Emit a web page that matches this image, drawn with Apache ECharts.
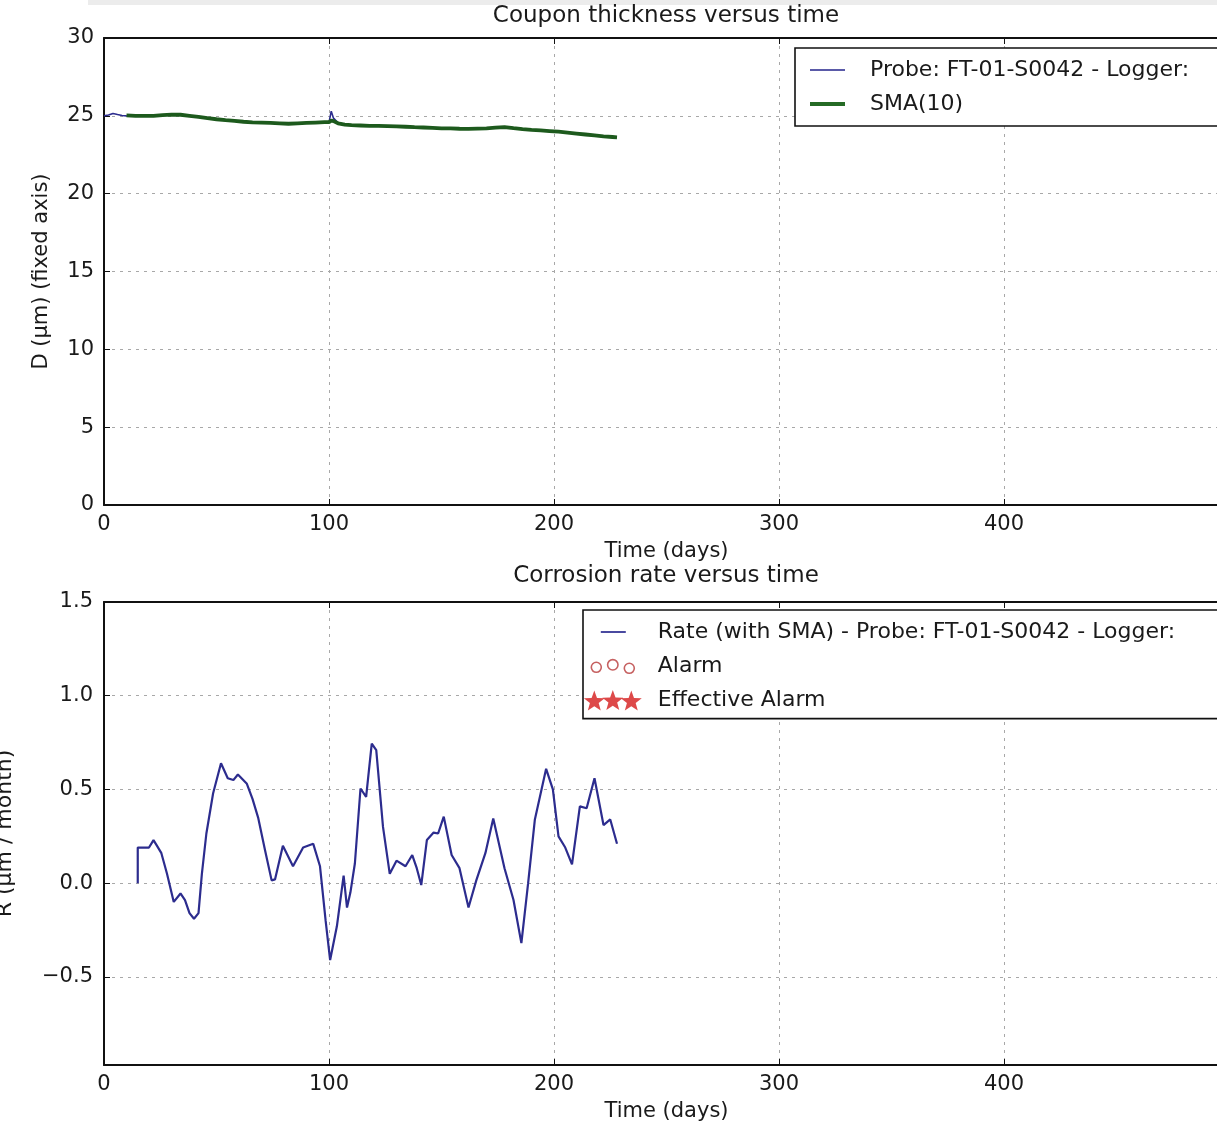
<!DOCTYPE html>
<html>
<head>
<meta charset="utf-8">
<title>Coupon thickness and corrosion rate</title>
<script src="https://cdn.jsdelivr.net/npm/echarts@6/dist/echarts.min.js"></script>
<style>
  html, body { margin: 0; padding: 0; background: #fff; }
  #chart { width: 1217px; height: 1126px; }
</style>
</head>
<body>
<div id="chart"></div>
<script>
// ---- Coupon thickness (µm) versus time (days) ----
const thicknessDays = [0, 2, 4, 6, 8, 10, 14, 18, 22, 26, 30, 34, 38, 42, 46, 50, 54, 58, 62, 66,
  70, 74, 78, 82, 86, 90, 94, 98, 100, 101, 102, 104, 107, 110, 114, 118, 122, 126, 130, 134,
  138, 142, 146, 150, 154, 158, 162, 166, 170, 174, 178, 182, 186, 190, 194, 198, 202, 206, 210,
  214, 218, 222, 226, 228];
const thicknessRaw = [25.00, 25.05, 25.15, 25.08, 25.02, 25.00, 24.98, 25.00, 24.99, 25.05, 25.10,
  25.08, 25.00, 24.93, 24.85, 24.78, 24.72, 24.68, 24.62, 24.58, 24.57, 24.55, 24.53, 24.46, 24.53,
  24.55, 24.57, 24.60, 24.58, 25.30, 24.85, 24.55, 24.45, 24.40, 24.38, 24.36, 24.36, 24.34, 24.32,
  24.30, 24.27, 24.25, 24.22, 24.18, 24.20, 24.17, 24.15, 24.18, 24.20, 24.24, 24.30, 24.20, 24.15,
  24.10, 24.06, 24.02, 23.98, 23.92, 23.86, 23.80, 23.74, 23.68, 23.64, 23.62];
// 10-sample moving average, available once ten samples exist
const thicknessSma = [null, null, null, null, null, 25.03, 25.00, 25.00, 25.00, 25.04, 25.08,
  25.07, 25.00, 24.93, 24.85, 24.78, 24.72, 24.68, 24.62, 24.58, 24.57, 24.55, 24.52, 24.49, 24.52,
  24.55, 24.57, 24.59, 24.59, 24.70, 24.66, 24.52, 24.44, 24.40, 24.38, 24.36, 24.35, 24.34, 24.32,
  24.30, 24.27, 24.25, 24.22, 24.19, 24.19, 24.17, 24.16, 24.18, 24.20, 24.24, 24.28, 24.21, 24.15,
  24.10, 24.06, 24.02, 23.98, 23.92, 23.86, 23.80, 23.74, 23.68, 23.64, 23.62];

// ---- Corrosion rate (µm / month) versus time (days) ----
const rateDays = [15, 15, 20, 22, 23.5, 25.5, 28, 31, 34, 36, 38, 40, 42, 43.5, 45.5, 48.5, 52,
  55, 57.5, 59.5, 63.5, 66, 68.5, 71.5, 74.5, 76, 79.5, 84, 88.5, 93, 96, 98.5, 100.5, 103.5,
  106.5, 108, 109.5, 111.5, 114, 116.5, 119, 121, 124, 127, 130, 134, 137, 139, 141, 143.5, 146.5,
  148.5, 151, 154.5, 158, 162, 165.5, 169.5, 173, 178, 182, 185.5, 188.5, 191.5, 196.5, 199.5, 202,
  205, 208, 211.5, 214.5, 218, 222, 225, 228];
const rateValues = [0.00, 0.19, 0.19, 0.23, 0.20, 0.16, 0.05, -0.10, -0.055, -0.09, -0.16, -0.19,
  -0.16, 0.05, 0.265, 0.48, 0.64, 0.56, 0.55, 0.58, 0.53, 0.45, 0.35, 0.18, 0.015, 0.02, 0.20, 0.09,
  0.19, 0.21, 0.09, -0.20, -0.41, -0.23, 0.04, -0.13, -0.05, 0.105, 0.505, 0.46, 0.745, 0.71, 0.30,
  0.05, 0.12, 0.09, 0.15, 0.08, -0.01, 0.23, 0.27, 0.265, 0.355, 0.15, 0.08, -0.13, 0.016, 0.16,
  0.345, 0.08, -0.09, -0.32, 0.00, 0.34, 0.61, 0.50, 0.25, 0.19, 0.10, 0.41, 0.40, 0.56, 0.31, 0.34,
  0.21];
// No alarm was raised over the period
const alarmPoints = [];
const effectiveAlarmPoints = [];

// ---- Axis ticks ----
const thicknessTicks = [0, 5, 10, 15, 20, 25, 30];
const rateTicks = [-0.5, 0.0, 0.5, 1.0, 1.5];

const probeName = 'Probe: FT-01-S0042 - Logger:';
const smaName = 'SMA(10)';
const rateName = 'Rate (with SMA) - Probe: FT-01-S0042 - Logger:';

const FONT = 'DejaVu Sans';
const INK = '#1a1a1a';
const BLUE = '#2c2c8e';
const GREEN = '#1d5a1d';
const RED = '#d41c1c';

const grid = { color: '#a8a8a8', width: 1, type: [3, 5] };

function pairs(xs, ys) { return xs.map((x, i) => [x, ys[i]]); }

// Legend icons drawn inside a fixed 58x22 frame so they keep their own size
function framed(body) { return 'path://M0,0M58,22' + body; }
function ring(cx, cy, r) {
  return 'M' + (cx - r) + ',' + cy + 'A' + r + ',' + r + ' 0 1 0 ' + (cx + r) + ',' + cy +
         'A' + r + ',' + r + ' 0 1 0 ' + (cx - r) + ',' + cy + 'Z';
}
function star(cx, cy, R, r) {
  let d = '';
  for (let k = 0; k < 10; k++) {
    const a = (-90 + k * 36) * Math.PI / 180;
    const rad = k % 2 === 0 ? R : r;
    d += (k === 0 ? 'M' : 'L') + (cx + rad * Math.cos(a)).toFixed(2) + ',' + (cy + rad * Math.sin(a)).toFixed(2);
  }
  return d + 'Z';
}

function timeAxis(gridIndex, withLabels) {
  return {
    type: 'value', gridIndex: gridIndex, min: 0, max: 500, interval: 100,
    position: withLabels ? 'bottom' : 'top',
    name: withLabels ? 'Time (days)' : '',
    nameLocation: 'middle', nameGap: 36,
    nameTextStyle: { fontFamily: FONT, fontSize: 21, color: INK },
    axisLine: { show: true, onZero: false, lineStyle: { color: '#111', width: 2 } },
    axisTick: { show: true, inside: true, length: 6, lineStyle: { color: '#111', width: 1 } },
    axisLabel: { show: withLabels, showMaxLabel: false, margin: 9, fontFamily: FONT, fontSize: 21, color: INK },
    splitLine: { show: withLabels, lineStyle: grid }
  };
}

const option = {
  animation: false,
  backgroundColor: '#ffffff',
  title: [
    { text: 'Coupon thickness versus time', left: 666, top: 5, textAlign: 'center', padding: 0,
      textStyle: { fontFamily: FONT, fontSize: 23, fontWeight: 'normal', color: INK } },
    { text: 'Corrosion rate versus time', left: 666, top: 565, textAlign: 'center', padding: 0,
      textStyle: { fontFamily: FONT, fontSize: 23, fontWeight: 'normal', color: INK } }
  ],
  graphic: [
    { type: 'rect', left: 88, top: 0, shape: { width: 1129, height: 5 }, style: { fill: '#ececec' }, silent: true }
  ],
  grid: [
    { left: 104, top: 38, width: 1125, height: 467, outerBoundsMode: 'none' },
    { left: 104, top: 602, width: 1125, height: 463, outerBoundsMode: 'none' }
  ],
  xAxis: [timeAxis(0, true), timeAxis(0, false), timeAxis(1, true), timeAxis(1, false)],
  yAxis: [
    {
      type: 'value', gridIndex: 0, min: 0, max: 30, interval: 5,
      name: 'D (\u03bcm) (fixed axis)', nameLocation: 'middle', nameGap: 52,
      nameTextStyle: { fontFamily: FONT, fontSize: 21, color: INK },
      axisLine: { show: true, lineStyle: { color: '#111', width: 2 } },
      axisTick: { show: true, inside: true, length: 6, customValues: thicknessTicks, lineStyle: { color: '#111' } },
      axisLabel: { margin: 10, fontFamily: FONT, fontSize: 21, color: INK, customValues: thicknessTicks },
      splitLine: { show: true, lineStyle: grid }
    },
    {
      type: 'value', gridIndex: 1, min: -0.97, max: 1.5,
      name: 'R (\u03bcm / month)', nameLocation: 'middle', nameGap: 88,
      nameTextStyle: { fontFamily: FONT, fontSize: 22, color: INK },
      axisLine: { show: true, lineStyle: { color: '#111', width: 2 } },
      axisTick: { show: true, inside: true, length: 6, customValues: rateTicks, lineStyle: { color: '#111' } },
      axisLabel: {
        margin: 11, fontFamily: FONT, fontSize: 21, color: INK, customValues: rateTicks,
        formatter: v => (v < 0 ? '\u2212' : '') + Math.abs(v).toFixed(1)
      },
      splitLine: { show: true, lineStyle: grid }
    }
  ],
  legend: [
    {
      orient: 'vertical', left: 795, top: 48, padding: [11, 80, 11, 15],
      itemWidth: 35, itemHeight: 14, itemGap: 12, selectedMode: false,
      borderColor: '#111', borderWidth: 1.6, backgroundColor: '#fff', borderRadius: 0,
      data: [
        { name: probeName, icon: 'path://M0,0L35,0L35,2L0,2Z', itemStyle: { color: '#5a5aa8', borderWidth: 0 } },
        { name: smaName, icon: 'path://M0,0L35,0L35,4L0,4Z', itemStyle: { color: '#256b25', borderWidth: 0 } }
      ],
      formatter: n => '{t|' + n + '}',
      textStyle: { rich: { t: { fontFamily: FONT, fontSize: 22, lineHeight: 22, color: INK, padding: [0, 0, 0, 20] } } }
    },
    {
      orient: 'vertical', left: 583, top: 610, padding: [11, 80, 7, 0],
      itemWidth: 58, itemHeight: 22, itemGap: 11.5, selectedMode: false,
      borderColor: '#111', borderWidth: 1.6, backgroundColor: '#fff', borderRadius: 0,
      data: [
        { name: rateName, icon: framed('M17,10L42,10L42,12L17,12Z'), itemStyle: { color: '#4a4aa0', borderWidth: 0 } },
        { name: 'Alarm', icon: framed(ring(12.5, 12, 5) + ring(29, 9.5, 5.2) + ring(45.5, 13, 5)),
          itemStyle: { color: 'rgba(0,0,0,0)', borderColor: '#b83a3a', borderWidth: 1.6 } },
        { name: 'Effective Alarm', icon: framed(star(10.5, 12, 11, 4.6) + star(29, 11.5, 11, 4.6) + star(47.5, 12, 11, 4.6)),
          itemStyle: { color: RED, borderWidth: 0 } }
      ],
      formatter: n => '{t|' + n + '}',
      textStyle: { rich: { t: { fontFamily: FONT, fontSize: 22, lineHeight: 22, color: INK, padding: [0, 0, 0, 11] } } }
    }
  ],
  series: [
    {
      name: probeName, type: 'line', xAxisIndex: 0, yAxisIndex: 0,
      data: pairs(thicknessDays, thicknessRaw), showSymbol: false, z: 2,
      color: BLUE, lineStyle: { color: BLUE, width: 1.6 }
    },
    {
      name: smaName, type: 'line', xAxisIndex: 0, yAxisIndex: 0,
      data: pairs(thicknessDays, thicknessSma), showSymbol: false, connectNulls: false, z: 3,
      color: GREEN, lineStyle: { color: GREEN, width: 3.8 }
    },
    {
      name: rateName, type: 'line', xAxisIndex: 2, yAxisIndex: 1,
      data: pairs(rateDays, rateValues), showSymbol: false, z: 3,
      color: BLUE, lineStyle: { color: BLUE, width: 2.2 }
    },
    {
      name: 'Alarm', type: 'scatter', xAxisIndex: 2, yAxisIndex: 1, data: alarmPoints,
      symbol: 'circle', symbolSize: 9, color: '#b83a3a',
      itemStyle: { color: 'rgba(0,0,0,0)', borderColor: '#b83a3a', borderWidth: 1.4 }
    },
    {
      name: 'Effective Alarm', type: 'scatter', xAxisIndex: 2, yAxisIndex: 1, data: effectiveAlarmPoints,
      symbol: 'path://' + star(10, 10, 10, 4), symbolSize: 18, color: RED
    }
  ]
};

const chart = echarts.init(document.getElementById('chart'), null, { renderer: 'canvas' });
chart.setOption(option);
</script>
</body>
</html>
